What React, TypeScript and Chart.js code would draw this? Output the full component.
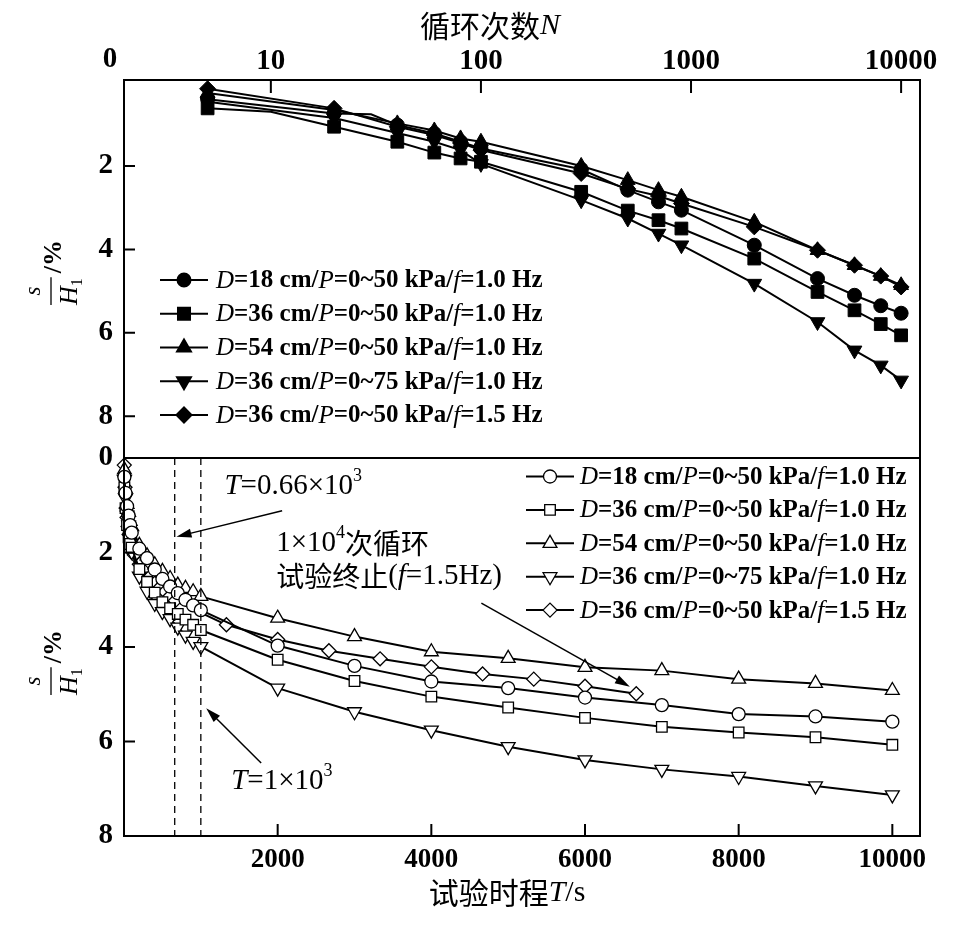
import React, { useEffect, useRef } from 'react';
import { Chart, registerables } from 'chart.js';
import { drawPoint } from 'chart.js/helpers';

Chart.register(...registerables);

// ---------- Top panel: settlement vs. number of cycles N (log axis) ----------
const topN = [5, 10, 20, 30, 40, 60, 80, 100, 300, 500, 700, 900, 2000, 4000, 6000, 8000, 10000];
const topUnmarkedN = [10, 30];
const topCircle = [0.40, null, 0.74, 0.76, 1.02, 1.22, 1.42, 1.58, 2.08, 2.58, 2.86, 3.06, 3.90, 4.70, 5.10, 5.35, 5.53];
const topSquare = [0.62, 0.70, 1.06, null, 1.42, 1.68, 1.82, 1.90, 2.62, 3.07, 3.30, 3.50, 4.22, 5.02, 5.46, 5.79, 6.06];
const topTriangle = [0.25, null, 0.66, null, 0.98, 1.15, 1.34, 1.42, 2.00, 2.34, 2.58, 2.74, 3.34, 4.02, 4.38, 4.64, 4.86];
const topDown = [0.46, null, 0.85, null, 1.21, 1.42, 1.62, 1.95, 2.82, 3.26, 3.62, 3.90, 4.82, 5.74, 6.42, 6.78, 7.14];
const topDiamond = [0.15, null, 0.62, null, 1.06, 1.26, 1.45, 1.62, 2.18, 2.55, 2.72, 2.90, 3.46, 4.02, 4.38, 4.64, 4.90];

// ---------- Bottom panel: settlement vs. test time T (s) ----------
const botT = [5, 20, 40, 60, 80, 100, 200, 300, 400, 500, 600, 700, 800, 900, 1000, 2000, 3000, 4000, 5000, 6000, 7000, 8000, 9000, 10000];
const botCircle = [0.40, 0.74, 1.02, 1.22, 1.42, 1.58, 1.92, 2.12, 2.36, 2.56, 2.72, 2.86, 3.00, 3.12, 3.22, 3.97, 4.40, 4.73, 4.87, 5.07, 5.23, 5.42, 5.47, 5.58];
const botSquare = [0.62, 1.06, 1.42, 1.68, 1.82, 1.90, 2.35, 2.62, 2.85, 3.05, 3.18, 3.30, 3.42, 3.53, 3.64, 4.27, 4.72, 5.05, 5.28, 5.50, 5.69, 5.81, 5.91, 6.07];
const botTriangle = [0.25, 0.66, 0.98, 1.15, 1.34, 1.45, 1.85, 2.07, 2.26, 2.40, 2.55, 2.69, 2.76, 2.83, 2.93, 3.39, 3.78, 4.10, 4.24, 4.43, 4.50, 4.68, 4.77, 4.92];
const botDown = [0.46, 0.85, 1.21, 1.42, 1.62, 1.98, 2.50, 2.82, 3.08, 3.25, 3.40, 3.58, 3.75, 3.88, 3.99, 4.87, 5.37, 5.76, 6.11, 6.39, 6.59, 6.74, 6.94, 7.13];
const botTDiamond = [3.3, 13.3, 26.7, 40, 53.3, 66.7, 133, 200, 267, 333, 400, 467, 533, 600, 667, 1333, 2000, 2667, 3333, 4000, 4667, 5333, 6000, 6667];
const botDiamond = [0.15, 0.62, 1.06, 1.26, 1.45, 1.62, 2.05, 2.25, 2.40, 2.52, 2.65, 2.74, 2.83, 2.92, 3.02, 3.53, 3.84, 4.08, 4.25, 4.42, 4.57, 4.68, 4.83, 4.99];

// ---------- Ticks & legend labels ----------
const topTicks = [10, 100, 1000, 10000];
const botTicks = [2000, 4000, 6000, 8000, 10000];
const yTopTicks = [2, 4, 6, 8];
const yBotTicks = [0, 2, 4, 6, 8];
const legendD = ['18', '36', '54', '36', '36'];
const legendP = ['0~50', '0~50', '0~50', '0~75', '0~50'];
const legendF = ['1.0', '1.0', '1.0', '1.0', '1.5'];
const dashT = [660, 1000];

const SERIF = '"Liberation Serif", "Times New Roman", serif';
const CJK = '"Noto Sans CJK SC", "Noto Sans CJK JP", sans-serif';

const markers = [
  { pointStyle: 'circle', rotation: 0, rTop: 7, rBot: 6.5 },
  { pointStyle: 'rect', rotation: 0, rTop: 9, rBot: 7.5 },
  { pointStyle: 'triangle', rotation: 0, rTop: 8.5, rBot: 8 },
  { pointStyle: 'triangle', rotation: 180, rTop: 8.5, rBot: 8 },
  { pointStyle: 'rectRot', rotation: 0, rTop: 8, rBot: 7 },
];

type Seg = { t: string; f: string; dy?: number };

function segWidth(ctx: CanvasRenderingContext2D, segs: Seg[]) {
  let w = 0;
  for (const s of segs) {
    ctx.font = s.f;
    w += ctx.measureText(s.t).width;
  }
  return w;
}

function drawRich(ctx: CanvasRenderingContext2D, segs: Seg[], x: number, y: number) {
  let cx = x;
  ctx.textAlign = 'left';
  ctx.textBaseline = 'middle';
  for (const s of segs) {
    ctx.font = s.f;
    ctx.fillText(s.t, cx, y + (s.dy || 0));
    cx += ctx.measureText(s.t).width;
  }
  return cx;
}

function legendSegs(i: number, size: number): Seg[] {
  const it = `italic ${size}px ${SERIF}`;
  const bd = `bold ${size}px ${SERIF}`;
  return [
    { t: 'D', f: it },
    { t: `=${legendD[i]} cm/`, f: bd },
    { t: 'P', f: it },
    { t: `=${legendP[i]} kPa/`, f: bd },
    { t: 'f', f: it },
    { t: `=${legendF[i]} Hz`, f: bd },
  ];
}

function drawArrow(ctx: CanvasRenderingContext2D, x1: number, y1: number, x2: number, y2: number) {
  const ang = Math.atan2(y2 - y1, x2 - x1);
  const L = 15, W = 4.5;
  ctx.beginPath();
  ctx.moveTo(x1, y1);
  ctx.lineTo(x2 - Math.cos(ang) * (L - 2), y2 - Math.sin(ang) * (L - 2));
  ctx.stroke();
  ctx.beginPath();
  ctx.moveTo(x2, y2);
  ctx.lineTo(x2 - Math.cos(ang) * L - Math.sin(ang) * W, y2 - Math.sin(ang) * L + Math.cos(ang) * W);
  ctx.lineTo(x2 - Math.cos(ang) * L + Math.sin(ang) * W, y2 - Math.sin(ang) * L - Math.cos(ang) * W);
  ctx.closePath();
  ctx.fill();
}

function drawYTitle(ctx: CanvasRenderingContext2D, cx: number, cyBottom: number) {
  ctx.save();
  ctx.translate(cx, cyBottom);
  ctx.rotate(-Math.PI / 2);
  ctx.fillStyle = '#000';
  ctx.strokeStyle = '#000';
  ctx.font = `italic 26px ${SERIF}`;
  const wH = ctx.measureText('H').width;
  ctx.font = `16px ${SERIF}`;
  const w1 = ctx.measureText('1').width;
  const w = wH + w1 + 1;
  ctx.lineWidth = 1.3;
  ctx.beginPath();
  ctx.moveTo(0, 0);
  ctx.lineTo(w, 0);
  ctx.stroke();
  ctx.textBaseline = 'alphabetic';
  ctx.textAlign = 'center';
  ctx.font = `italic 23px ${SERIF}`;
  ctx.fillText('s', w / 2, -11);
  ctx.textAlign = 'left';
  ctx.font = `italic 26px ${SERIF}`;
  ctx.fillText('H', 0, 26);
  ctx.font = `16px ${SERIF}`;
  ctx.fillText('1', wH, 31);
  ctx.font = `bold 26px ${SERIF}`;
  ctx.textBaseline = 'middle';
  ctx.fillText('/%', w + 4, 3);
  ctx.restore();
}

const decor = {
  id: 'decor',
  afterDraw(chart: any) {
    const ctx: CanvasRenderingContext2D = chart.ctx;
    const { left, right } = chart.chartArea;
    const xT = chart.scales.xTop;
    const xB = chart.scales.xBot;
    const yT = chart.scales.yTop;
    const yB = chart.scales.yBot;
    ctx.save();
    ctx.fillStyle = '#000';
    ctx.strokeStyle = '#000';

    // frames
    ctx.lineWidth = 2;
    ctx.strokeRect(left, yT.top, right - left, yT.bottom - yT.top);
    ctx.strokeRect(left, yB.top, right - left, yB.bottom - yB.top);

    // inward tick marks
    ctx.lineWidth = 2;
    ctx.beginPath();
    for (const t of yT.ticks) {
      const p = yT.getPixelForValue(t.value);
      ctx.moveTo(left, p);
      ctx.lineTo(left + 11, p);
    }
    for (const t of yB.ticks) {
      const p = yB.getPixelForValue(t.value);
      ctx.moveTo(left, p);
      ctx.lineTo(left + 11, p);
    }
    for (const t of xT.ticks) {
      const p = xT.getPixelForValue(t.value);
      ctx.moveTo(p, yT.top);
      ctx.lineTo(p, yT.top + 13);
    }
    for (const t of xB.ticks) {
      const p = xB.getPixelForValue(t.value);
      ctx.moveTo(p, yB.bottom);
      ctx.lineTo(p, yB.bottom - 12);
    }
    ctx.stroke();

    // dashed reference lines
    ctx.lineWidth = 1.3;
    ctx.setLineDash([7, 5]);
    ctx.beginPath();
    for (const t of dashT) {
      const p = xB.getPixelForValue(t);
      ctx.moveTo(p, yB.top);
      ctx.lineTo(p, yB.bottom);
    }
    ctx.stroke();
    ctx.setLineDash([]);

    // "0" at the top-left origin of the cycle axis
    ctx.font = `bold 29px ${SERIF}`;
    ctx.textAlign = 'center';
    ctx.textBaseline = 'middle';
    ctx.fillText('0', left - 14, 60);

    // axis titles
    const topTitle: Seg[] = [
      { t: '循环次数', f: `30px ${CJK}` },
      { t: 'N', f: `italic 30px ${SERIF}` },
    ];
    let w = segWidth(ctx, topTitle);
    drawRich(ctx, topTitle, 490 - w / 2, 26);
    const botTitle: Seg[] = [
      { t: '试验时程', f: `30px ${CJK}` },
      { t: 'T', f: `italic 30px ${SERIF}` },
      { t: '/s', f: `30px ${SERIF}` },
    ];
    w = segWidth(ctx, botTitle);
    drawRich(ctx, botTitle, 507 - w / 2, 893);
    drawYTitle(ctx, 51, yT.top + 225);
    drawYTitle(ctx, 51, yB.top + 237);

    // legends
    for (let i = 0; i < 5; i++) {
      const m = markers[i];
      // top (filled)
      const yy = yT.top + 200 + i * 33.75;
      ctx.lineWidth = 2;
      ctx.beginPath();
      ctx.moveTo(left + 36, yy);
      ctx.lineTo(left + 84, yy);
      ctx.stroke();
      ctx.fillStyle = '#000';
      drawPoint(ctx, { pointStyle: m.pointStyle, rotation: m.rotation, radius: m.rTop - 0.5, borderWidth: 1 } as any, left + 60, yy);
      drawRich(ctx, legendSegs(i, 25), left + 92, yy + 1);
      // bottom (open)
      const yb = yB.top + 18.5 + i * 33.4;
      const lx = 526;
      ctx.lineWidth = 2;
      ctx.beginPath();
      ctx.moveTo(lx, yb);
      ctx.lineTo(lx + 48, yb);
      ctx.stroke();
      ctx.fillStyle = '#fff';
      ctx.lineWidth = 1.3;
      drawPoint(ctx, { pointStyle: m.pointStyle, rotation: m.rotation, radius: m.rBot, borderWidth: 1.3 } as any, lx + 24, yb);
      ctx.fillStyle = '#000';
      drawRich(ctx, legendSegs(i, 25), lx + 54, yb + 1);
    }

    // annotations (placed in data coordinates of the bottom panel)
    const px = (t: number) => xB.getPixelForValue(t);
    const py = (s: number) => yB.getPixelForValue(s);
    const F = 29;
    ctx.fillStyle = '#000';
    drawRich(ctx, [
      { t: 'T', f: `italic ${F}px ${SERIF}` },
      { t: '=0.66×10', f: `${F}px ${SERIF}` },
      { t: '3', f: `18px ${SERIF}`, dy: -10 },
    ], px(1307), py(0.6));
    drawRich(ctx, [
      { t: 'T', f: `italic ${F}px ${SERIF}` },
      { t: '=1×10', f: `${F}px ${SERIF}` },
      { t: '3', f: `18px ${SERIF}`, dy: -10 },
    ], px(1395), py(6.85));
    drawRich(ctx, [
      { t: '1×10', f: `${F}px ${SERIF}` },
      { t: '4', f: `18px ${SERIF}`, dy: -10 },
      { t: '次循环', f: `${F - 1}px ${CJK}` },
    ], px(1980), py(1.8));
    drawRich(ctx, [
      { t: '试验终止', f: `${F - 1}px ${CJK}` },
      { t: '(', f: `${F}px ${SERIF}` },
      { t: 'f', f: `italic ${F}px ${SERIF}` },
      { t: '=1.5Hz)', f: `${F}px ${SERIF}` },
    ], px(1980), py(2.51));

    ctx.lineWidth = 1.5;
    ctx.strokeStyle = '#000';
    drawArrow(ctx, px(2058), py(1.115), px(683), py(1.666));
    drawArrow(ctx, px(1785), py(6.455), px(1070), py(5.297));
    drawArrow(ctx, px(4651), py(3.07), px(6584), py(4.84));

    ctx.restore();
  },
};

function pts(xs: number[], ys: (number | null)[]) {
  const out: { x: number; y: number }[] = [];
  xs.forEach((x, i) => {
    const y = ys[i];
    if (y !== null && y !== undefined) out.push({ x, y });
  });
  return out;
}

export default function App() {
  const ref = useRef<HTMLCanvasElement>(null);
  useEffect(() => {
    const topSeries = [topCircle, topSquare, topTriangle, topDown, topDiamond];
    const botSeries = [botCircle, botSquare, botTriangle, botDown, botDiamond];
    const datasets: any[] = [];
    topSeries.forEach((vals, i) => {
      const m = markers[i];
      const data = pts(topN, vals);
      datasets.push({
        label: 'top' + i,
        data,
        xAxisID: 'xTop',
        yAxisID: 'yTop',
        borderColor: '#000',
        borderWidth: 2,
        backgroundColor: '#000',
        pointBackgroundColor: '#000',
        pointBorderColor: '#000',
        pointBorderWidth: 1,
        pointStyle: m.pointStyle,
        pointRotation: m.rotation,
        pointRadius: (c: any) => {
          const p = data[c.dataIndex];
          return p && topUnmarkedN.includes(p.x) ? 0 : m.rTop;
        },
        tension: 0,
        clip: false,
      });
    });
    botSeries.forEach((vals, i) => {
      const m = markers[i];
      datasets.push({
        label: 'bot' + i,
        data: pts(i === 4 ? botTDiamond : botT, vals),
        xAxisID: 'xBot',
        yAxisID: 'yBot',
        borderColor: '#000',
        borderWidth: 2,
        backgroundColor: '#fff',
        pointBackgroundColor: '#fff',
        pointBorderColor: '#000',
        pointBorderWidth: 1.3,
        pointStyle: m.pointStyle,
        pointRotation: m.rotation,
        pointRadius: m.rBot,
        tension: 0,
        clip: false,
      });
    });

    const tickFont = (size: number) => ({ family: SERIF, size, weight: 'bold' as const });
    const noGrid = { display: false, drawTicks: false, tickLength: 0 };

    const chart = new Chart(ref.current as HTMLCanvasElement, {
      type: 'line',
      data: { datasets },
      options: {
        animation: false,
        responsive: false,
        maintainAspectRatio: false,
        layout: { padding: { left: 0, right: 41, top: 0, bottom: 0 } },
        plugins: { legend: { display: false }, tooltip: { enabled: false } },
        scales: {
          xTop: {
            type: 'logarithmic',
            position: 'top',
            min: 2,
            max: 12300,
            grid: noGrid,
            border: { display: false },
            ticks: { font: tickFont(29), color: '#000', padding: 1, maxRotation: 0, autoSkip: false, callback: (v: any) => String(v) },
            afterBuildTicks: (s: any) => { s.ticks = topTicks.map((v) => ({ value: v })); },
            afterFit: (s: any) => { s.height = 80; },
          },
          xBot: {
            type: 'linear',
            position: 'bottom',
            min: 0,
            max: 10360,
            grid: noGrid,
            border: { display: false },
            ticks: { font: tickFont(27), color: '#000', padding: 8, maxRotation: 0, autoSkip: false, callback: (v: any) => String(v) },
            afterBuildTicks: (s: any) => { s.ticks = botTicks.map((v) => ({ value: v })); },
            afterFit: (s: any) => { s.height = 91; },
          },
          yBot: {
            type: 'linear',
            position: 'left',
            stack: 'panels',
            stackWeight: 1,
            reverse: true,
            min: 0,
            max: 8,
            grid: noGrid,
            border: { display: false },
            ticks: { font: tickFont(29), color: '#000', padding: 11, autoSkip: false },
            afterBuildTicks: (s: any) => { s.ticks = yBotTicks.map((v) => ({ value: v })); },
            afterFit: (s: any) => { s.width = 124; },
          },
          yTop: {
            type: 'linear',
            position: 'left',
            stack: 'panels',
            stackWeight: 1,
            reverse: true,
            min: -0.06,
            max: 9,
            grid: noGrid,
            border: { display: false },
            ticks: { font: tickFont(29), color: '#000', padding: 11, autoSkip: false },
            afterBuildTicks: (s: any) => { s.ticks = yTopTicks.map((v) => ({ value: v })); },
            afterFit: (s: any) => { s.width = 124; },
          },
        },
      } as any,
      plugins: [decor],
    });
    return () => chart.destroy();
  }, []);

  return (
    <div style={{ position: 'absolute', left: 0, top: 0, width: 961, height: 927, background: '#fff' }}>
      <canvas ref={ref} width={961} height={927} style={{ width: 961, height: 927, display: 'block' }} />
    </div>
  );
}
